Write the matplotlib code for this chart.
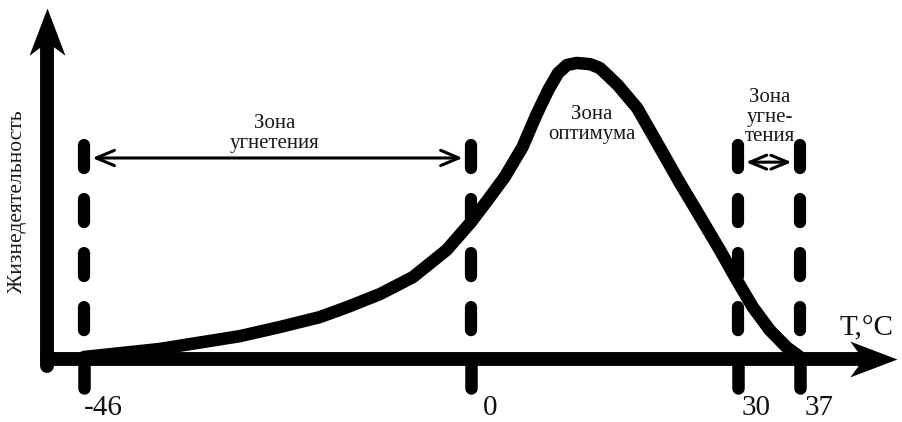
import numpy as np
import matplotlib
matplotlib.use("Agg")
import matplotlib.pyplot as plt
from matplotlib.path import Path
from matplotlib.markers import MarkerStyle
from matplotlib.transforms import Affine2D, blended_transform_factory

plt.rcParams['font.family'] = ['Liberation Serif', 'DejaVu Serif']
plt.rcParams['lines.scale_dashes'] = False

# ---- data ----
temp = [-46, -37.0, -27.5, -22.7, -18.0, -14.7, -10.8, -6.9, -2.9, 0,
        1.8, 3.8, 5.8, 7.4, 8.7, 9.8, 10.8, 11.9, 13.4, 14.5, 16.5, 18.7,
        20.5, 23.5, 25.8, 28.0, 29.9, 31.7, 33.6, 35.5, 37]
vital = [0.7, 3.4, 7.7, 10.8, 14.1, 17.5, 21.9, 27.6, 36.7, 46.1,
         53.2, 61.3, 71.4, 82.5, 90.6, 96.3, 99.0, 99.7, 99.3, 98.0, 92.3, 84.5,
         75.1, 59.3, 47.8, 36.7, 26.6, 17.5, 9.8, 4.0, 0.7]
tick_vals = [-46, 0, 30, 37]
tick_labels = ["-46", "0", "30", "37"]
zone_left = (-46, 0)
zone_right = (30, 37)
xlabel = "T,°C"
ylabel = "Жизнедеятельность"
zone_texts = ["Зона\nугнетения", "Зона\nоптимума", "Зона\nугне-\nтения"]

# ---- figure ----
fig = plt.figure(figsize=(9.03, 4.22), dpi=100)
ax = fig.add_axes([0, 0, 1, 1])
# negative side of the temperature axis is drawn slightly compressed (schematic)
fwd = lambda x: np.where(np.asarray(x) < 0, np.asarray(x) * 0.946, np.asarray(x))
inv = lambda u: np.where(np.asarray(u) < 0, np.asarray(u) / 0.946, np.asarray(u))
ax.set_xscale('function', functions=(fwd, inv))
ax.set_xlim(-56.0, 48.6)
ax.set_ylim(-21.2, 120.9)
ax.axis('off')

black = 'black'
axis_lw = 10
xa = blended_transform_factory(ax.transAxes, ax.transData)
ax_x0 = 0.052
ax.plot([ax_x0, ax_x0], [-2.3, 105], color=black, lw=axis_lw, transform=xa,
        solid_capstyle='round', solid_joinstyle='round')
ax.plot([ax_x0, 0.955], [0, 0], color=black, lw=axis_lw, transform=xa,
        solid_capstyle='round', solid_joinstyle='round')

# arrowheads as markers (notched)
head = Path([(0, 0), (-1, 0.38), (-0.72, 0), (-1, -0.38), (0, 0)],
            [Path.MOVETO, Path.LINETO, Path.LINETO, Path.LINETO, Path.CLOSEPOLY])
mx = MarkerStyle(head)
my = MarkerStyle(head, transform=Affine2D().rotate_deg(90))
ax.plot([0.993], [0], marker=mx, markersize=68, color=black, transform=xa, mew=0)
ax.plot([ax_x0], [118.2], marker=my, markersize=68, color=black, transform=xa, mew=0)

# tick stubs
ax.vlines(tick_vals, -9.8, 0, color=black, lw=9, capstyle='round')
for t, lab in zip(tick_vals, tick_labels):
    ax.annotate(lab, xy=(t, 0), xytext=(13.5, -35), textcoords='offset points',
                ha='center', va='center', fontsize=21, color='#111')

# dashed lines
for t in tick_vals:
    ln, = ax.plot([t, t], [72, 0], color=black, lw=8.8, solid_capstyle='round')
    ln.set_dashes((16.6, 22.3))
    ln.set_dash_capstyle('round')

# curve
ax.plot(temp, vital, color=black, lw=9, solid_capstyle='round', solid_joinstyle='round')

# zone arrows
ax.annotate("", xy=(zone_left[0], 67.7), xytext=(zone_left[1], 67.7),
            arrowprops=dict(arrowstyle='<->,head_length=1.3,head_width=0.55', lw=2.2,
                            color=black, shrinkA=6, shrinkB=6))
ax.annotate("", xy=(zone_right[0], 66.3), xytext=(zone_right[1], 66.3),
            arrowprops=dict(arrowstyle='<->,head_length=1.2,head_width=0.5', lw=2.2,
                            color=black, shrinkA=6, shrinkB=6))

# texts
tc = '#1a1a1a'
ax.text(-23.3, 76, zone_texts[0], ha='center', va='center', fontsize=15, color=tc,
        linespacing=1.1)
ax.text(13.6, 79, zone_texts[1], ha='center', va='center', fontsize=15, color=tc,
        linespacing=1.1)
ax.text(33.6, 81.5, zone_texts[2], ha='center', va='center', fontsize=15, color=tc,
        linespacing=1.05)
ax.text(0.019, 52.9, ylabel, rotation=90, ha='center', va='center', fontsize=15.5,
        color=tc, transform=xa)
ax.text(44.5, 10.4, xlabel, ha='center', va='center', fontsize=21, color='#111')

fig.savefig("out.png", dpi=100)
